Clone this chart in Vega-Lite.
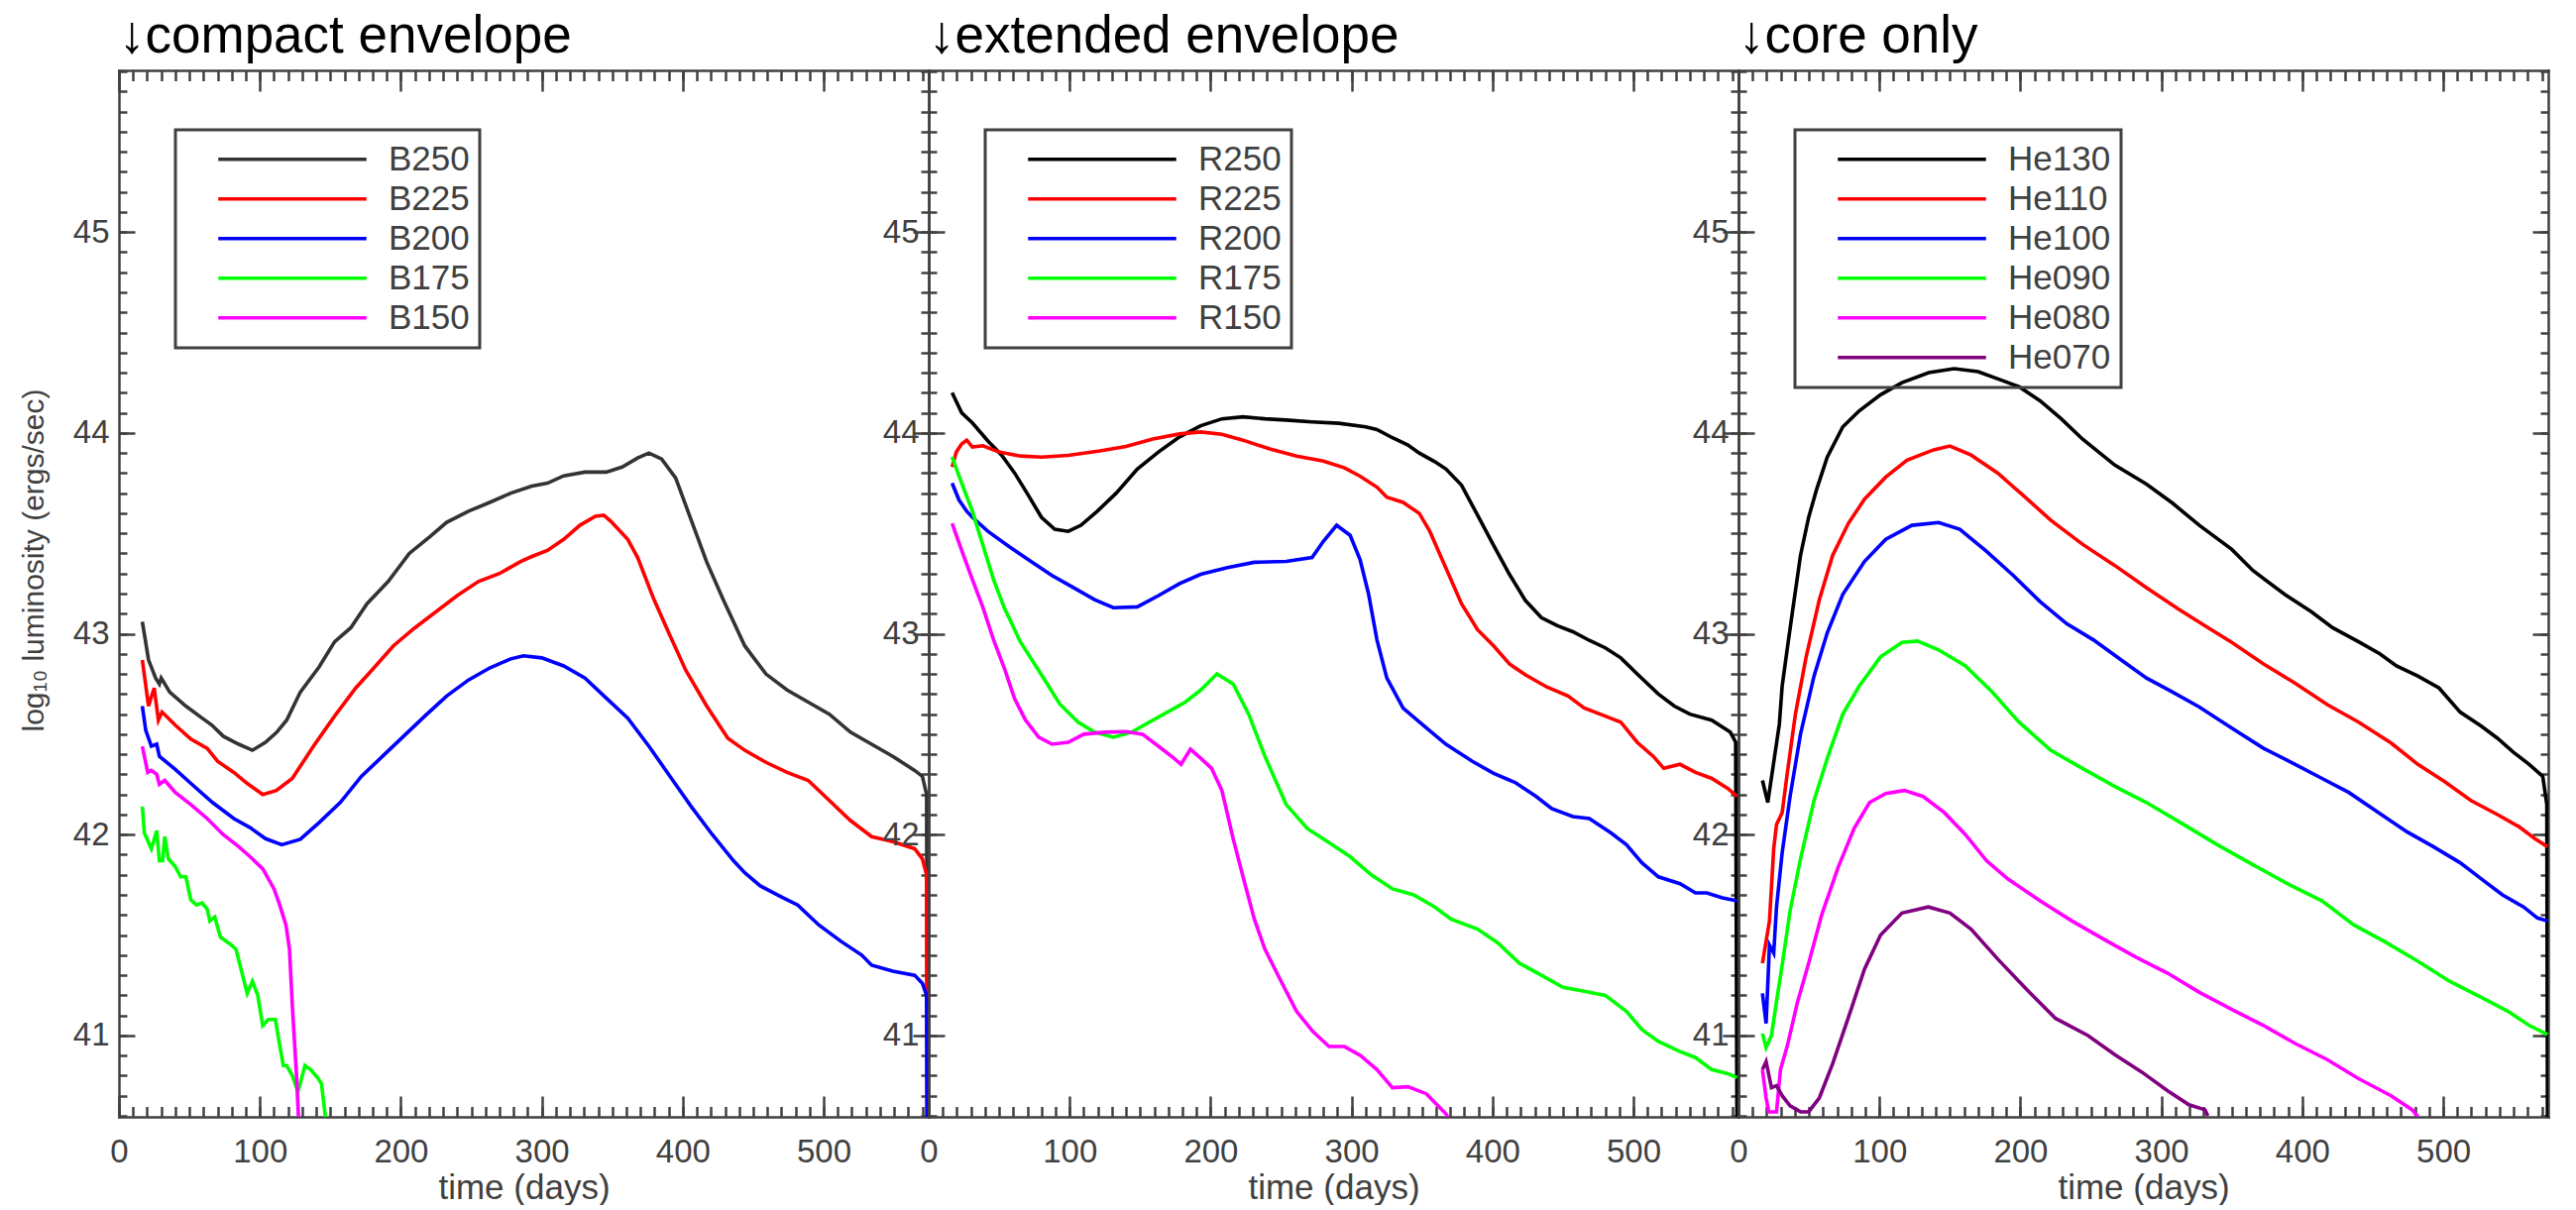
{
  "$schema": "https://vega.github.io/schema/vega-lite/v6.json",
  "background": "white",
  "padding": {"left": 19, "top": 10, "right": 5, "bottom": 0},
  "config": {
    "view": {"stroke": null},
    "axis": {"domainColor": "#404040", "tickColor": "#404040", "labelColor": "#404040", "titleColor": "#404040", "labelFont": "Liberation Sans", "titleFont": "Liberation Sans", "labelFontSize": 33, "titleFontSize": 35, "titleFontWeight": "normal", "grid": false, "domainWidth": 2.5, "tickWidth": 2.5, "domainCap": "square", "labelFlush": false, "labelOverlap": false},
    "legend": {"orient": "none", "legendX": 57, "legendY": 60, "symbolType": "stroke", "symbolSize": 22350, "symbolStrokeWidth": 3.6, "clipHeight": 39.6, "rowPadding": 0, "labelFontSize": 35, "labelColor": "#404040", "labelFont": "Liberation Sans", "labelOffset": 20, "symbolOffset": 31, "padding": 10, "strokeColor": "#404040", "labelLimit": 400},
    "title": {"anchor": "start", "frame": "group", "fontSize": 53, "font": "Liberation Sans", "fontWeight": "normal", "color": "black", "baseline": "alphabetic", "offset": 6}
  },
  "spacing": 0,
  "bounds": "flush",
  "resolve": {"scale": {"color": "independent", "x": "independent", "y": "independent"}, "legend": {"color": "independent"}},
  "hconcat": [
    {
      "width": 817, "height": 1056,
      "title": "↓compact envelope",
      "data": {"values": [
        {"model":"B250","t":16.6,"L":43.06},{"model":"B250","t":21,"L":42.87},{"model":"B250","t":26,"L":42.78},{"model":"B250","t":28.7,"L":42.75},{"model":"B250","t":30,"L":42.78},{"model":"B250","t":36,"L":42.71},{"model":"B250","t":47.5,"L":42.64},{"model":"B250","t":59,"L":42.58},{"model":"B250","t":66,"L":42.545},{"model":"B250","t":74,"L":42.49},{"model":"B250","t":85,"L":42.45},{"model":"B250","t":94.7,"L":42.42},{"model":"B250","t":104,"L":42.46},{"model":"B250","t":112,"L":42.51},{"model":"B250","t":119,"L":42.57},{"model":"B250","t":128.7,"L":42.71},{"model":"B250","t":142,"L":42.835},{"model":"B250","t":153,"L":42.96},{"model":"B250","t":164.5,"L":43.03},{"model":"B250","t":176,"L":43.15},{"model":"B250","t":191,"L":43.26},{"model":"B250","t":206,"L":43.4},{"model":"B250","t":221,"L":43.485},{"model":"B250","t":232.5,"L":43.555},{"model":"B250","t":248,"L":43.61},{"model":"B250","t":263,"L":43.654},{"model":"B250","t":278,"L":43.7},{"model":"B250","t":293,"L":43.735},{"model":"B250","t":304,"L":43.75},{"model":"B250","t":315.5,"L":43.786},{"model":"B250","t":330.6,"L":43.805},{"model":"B250","t":345.7,"L":43.805},{"model":"B250","t":357,"L":43.83},{"model":"B250","t":368,"L":43.875},{"model":"B250","t":376,"L":43.9},{"model":"B250","t":385,"L":43.87},{"model":"B250","t":395,"L":43.775},{"model":"B250","t":406,"L":43.566},{"model":"B250","t":417,"L":43.357},{"model":"B250","t":428.7,"L":43.17},{"model":"B250","t":444,"L":42.94},{"model":"B250","t":459,"L":42.8},{"model":"B250","t":474,"L":42.72},{"model":"B250","t":489,"L":42.66},{"model":"B250","t":504,"L":42.6},{"model":"B250","t":519,"L":42.51},{"model":"B250","t":534,"L":42.45},{"model":"B250","t":549,"L":42.39},{"model":"B250","t":564.5,"L":42.32},{"model":"B250","t":570,"L":42.29},{"model":"B250","t":573,"L":42.2},{"model":"B250","t":573.5,"L":40.4},
        {"model":"B225","t":16.6,"L":42.87},{"model":"B225","t":21,"L":42.64},{"model":"B225","t":25,"L":42.73},{"model":"B225","t":28,"L":42.57},{"model":"B225","t":30.6,"L":42.61},{"model":"B225","t":40,"L":42.545},{"model":"B225","t":51,"L":42.476},{"model":"B225","t":62.6,"L":42.43},{"model":"B225","t":70,"L":42.365},{"model":"B225","t":81.5,"L":42.31},{"model":"B225","t":91,"L":42.255},{"model":"B225","t":102,"L":42.2},{"model":"B225","t":111.7,"L":42.22},{"model":"B225","t":123,"L":42.28},{"model":"B225","t":138,"L":42.44},{"model":"B225","t":153,"L":42.59},{"model":"B225","t":168,"L":42.73},{"model":"B225","t":179.6,"L":42.82},{"model":"B225","t":194.7,"L":42.94},{"model":"B225","t":210,"L":43.03},{"model":"B225","t":225,"L":43.11},{"model":"B225","t":240,"L":43.19},{"model":"B225","t":255,"L":43.26},{"model":"B225","t":270,"L":43.3},{"model":"B225","t":285,"L":43.36},{"model":"B225","t":293,"L":43.385},{"model":"B225","t":304,"L":43.415},{"model":"B225","t":315.5,"L":43.47},{"model":"B225","t":327,"L":43.54},{"model":"B225","t":338,"L":43.585},{"model":"B225","t":344,"L":43.59},{"model":"B225","t":349,"L":43.56},{"model":"B225","t":361,"L":43.47},{"model":"B225","t":368,"L":43.38},{"model":"B225","t":379.6,"L":43.17},{"model":"B225","t":391,"L":42.99},{"model":"B225","t":402,"L":42.82},{"model":"B225","t":417,"L":42.64},{"model":"B225","t":432,"L":42.48},{"model":"B225","t":444,"L":42.42},{"model":"B225","t":459,"L":42.36},{"model":"B225","t":474,"L":42.31},{"model":"B225","t":489,"L":42.27},{"model":"B225","t":504,"L":42.17},{"model":"B225","t":519,"L":42.07},{"model":"B225","t":534,"L":41.99},{"model":"B225","t":549,"L":41.965},{"model":"B225","t":564.5,"L":41.93},{"model":"B225","t":570,"L":41.88},{"model":"B225","t":573,"L":41.8},{"model":"B225","t":573.5,"L":40.4},
        {"model":"B200","t":16.6,"L":42.64},{"model":"B200","t":19,"L":42.52},{"model":"B200","t":23,"L":42.44},{"model":"B200","t":26.8,"L":42.45},{"model":"B200","t":28.7,"L":42.39},{"model":"B200","t":40,"L":42.325},{"model":"B200","t":51,"L":42.255},{"model":"B200","t":66.4,"L":42.16},{"model":"B200","t":81.5,"L":42.08},{"model":"B200","t":93,"L":42.035},{"model":"B200","t":104,"L":41.98},{"model":"B200","t":115.5,"L":41.95},{"model":"B200","t":128.7,"L":41.977},{"model":"B200","t":142,"L":42.06},{"model":"B200","t":157,"L":42.16},{"model":"B200","t":172,"L":42.29},{"model":"B200","t":187,"L":42.39},{"model":"B200","t":202,"L":42.49},{"model":"B200","t":217,"L":42.59},{"model":"B200","t":232.5,"L":42.69},{"model":"B200","t":248,"L":42.77},{"model":"B200","t":263,"L":42.83},{"model":"B200","t":278,"L":42.875},{"model":"B200","t":287,"L":42.89},{"model":"B200","t":300,"L":42.88},{"model":"B200","t":315.5,"L":42.84},{"model":"B200","t":330.6,"L":42.78},{"model":"B200","t":345.7,"L":42.68},{"model":"B200","t":361,"L":42.58},{"model":"B200","t":376,"L":42.44},{"model":"B200","t":391,"L":42.29},{"model":"B200","t":406,"L":42.14},{"model":"B200","t":421,"L":42.0},{"model":"B200","t":436,"L":41.87},{"model":"B200","t":444,"L":41.81},{"model":"B200","t":455,"L":41.745},{"model":"B200","t":470,"L":41.69},{"model":"B200","t":481.5,"L":41.65},{"model":"B200","t":496.6,"L":41.55},{"model":"B200","t":512,"L":41.47},{"model":"B200","t":527,"L":41.4},{"model":"B200","t":534,"L":41.35},{"model":"B200","t":549,"L":41.32},{"model":"B200","t":564.5,"L":41.3},{"model":"B200","t":570,"L":41.26},{"model":"B200","t":573,"L":41.2},{"model":"B200","t":573.5,"L":40.4},
        {"model":"B175","t":16.6,"L":42.14},{"model":"B175","t":18,"L":42.01},{"model":"B175","t":23,"L":41.93},{"model":"B175","t":26.8,"L":42.02},{"model":"B175","t":28.7,"L":41.87},{"model":"B175","t":31,"L":41.87},{"model":"B175","t":32.5,"L":41.99},{"model":"B175","t":35,"L":41.88},{"model":"B175","t":40,"L":41.84},{"model":"B175","t":43.8,"L":41.79},{"model":"B175","t":47.5,"L":41.79},{"model":"B175","t":51,"L":41.675},{"model":"B175","t":55,"L":41.65},{"model":"B175","t":59,"L":41.66},{"model":"B175","t":62.6,"L":41.63},{"model":"B175","t":64.5,"L":41.57},{"model":"B175","t":68,"L":41.59},{"model":"B175","t":72,"L":41.49},{"model":"B175","t":78,"L":41.46},{"model":"B175","t":83,"L":41.43},{"model":"B175","t":87,"L":41.32},{"model":"B175","t":91,"L":41.21},{"model":"B175","t":94.7,"L":41.27},{"model":"B175","t":98.5,"L":41.2},{"model":"B175","t":102,"L":41.05},{"model":"B175","t":106,"L":41.08},{"model":"B175","t":111,"L":41.08},{"model":"B175","t":113.6,"L":40.97},{"model":"B175","t":116.6,"L":40.85},{"model":"B175","t":119,"L":40.85},{"model":"B175","t":123,"L":40.8},{"model":"B175","t":127,"L":40.72},{"model":"B175","t":132,"L":40.85},{"model":"B175","t":136,"L":40.83},{"model":"B175","t":141,"L":40.79},{"model":"B175","t":143.7,"L":40.76},{"model":"B175","t":146.4,"L":40.6},{"model":"B175","t":147,"L":40.5},
        {"model":"B150","t":16.6,"L":42.44},{"model":"B150","t":20.4,"L":42.31},{"model":"B150","t":23,"L":42.32},{"model":"B150","t":26.8,"L":42.3},{"model":"B150","t":28.7,"L":42.25},{"model":"B150","t":32.5,"L":42.27},{"model":"B150","t":40,"L":42.21},{"model":"B150","t":51,"L":42.15},{"model":"B150","t":62.6,"L":42.08},{"model":"B150","t":74,"L":42.0},{"model":"B150","t":85,"L":41.94},{"model":"B150","t":93,"L":41.89},{"model":"B150","t":102,"L":41.83},{"model":"B150","t":110,"L":41.73},{"model":"B150","t":113.6,"L":41.66},{"model":"B150","t":118.5,"L":41.55},{"model":"B150","t":121,"L":41.43},{"model":"B150","t":123,"L":41.15},{"model":"B150","t":126,"L":40.8},{"model":"B150","t":128,"L":40.5}
      ]},
      "layer": [
        {"mark": {"type": "line", "clip": true, "strokeWidth": 3.6},
         "encoding": {
           "x": {"field": "t", "type": "quantitative", "scale": {"domain": [0, 574.5], "nice": false, "zero": false}, "axis": {"orient": "bottom", "values": [0,100,200,300,400,500], "ticks": false, "labelPadding": 19, "title": "time (days)", "titlePadding": 2}},
           "y": {"field": "L", "type": "quantitative", "scale": {"domain": [40.595, 45.805], "nice": false, "zero": false}, "axis": {"orient": "left", "values": [41,42,43,44,45], "ticks": false, "labelPadding": 10, "title": "log₁₀ luminosity (ergs/sec)", "titleFontSize": 30, "titlePadding": 24, "titleY": 494}},
           "color": {"field": "model", "type": "nominal", "scale": {"domain": ["B250","B225","B200","B175","B150"], "range": ["#333333","#ff0000","#0000ff","#00ff00","#ff00ff"]}, "legend": {"title": null, "encode": {"legend": {"update": {"strokeWidth": {"value": 3}}}}}}
         }},
        {"mark": {"type": "point", "opacity": 0},
         "encoding": {
           "x": {"field": "t", "type": "quantitative", "axis": {"orient": "bottom", "values": [0,100,200,300,400,500], "labels": false, "domain": false, "tickSize": -21, "title": null}},
           "y": {"field": "L", "type": "quantitative", "axis": {"orient": "left", "values": [41,42,43,44,45], "labels": false, "domain": false, "tickSize": -16, "title": null}}
         }},
        {"mark": {"type": "point", "opacity": 0},
         "encoding": {
           "x": {"field": "t", "type": "quantitative", "axis": {"orient": "bottom", "values": [0,10,20,30,40,50,60,70,80,90,100,110,120,130,140,150,160,170,180,190,200,210,220,230,240,250,260,270,280,290,300,310,320,330,340,350,360,370,380,390,400,410,420,430,440,450,460,470,480,490,500,510,520,530,540,550,560,570], "labels": false, "domain": false, "tickSize": -10.5, "title": null}},
           "y": {"field": "L", "type": "quantitative", "axis": {"orient": "left", "values": [40.6,40.7,40.8,40.9,41,41.1,41.2,41.3,41.4,41.5,41.6,41.7,41.8,41.9,42,42.1,42.2,42.3,42.4,42.5,42.6,42.7,42.8,42.9,43,43.1,43.2,43.3,43.4,43.5,43.6,43.7,43.8,43.9,44,44.1,44.2,44.3,44.4,44.5,44.6,44.7,44.8,44.9,45,45.1,45.2,45.3,45.4,45.5,45.6,45.7,45.8], "labels": false, "domain": false, "tickSize": -8, "title": null}}
         }},
        {"mark": {"type": "point", "opacity": 0},
         "encoding": {
           "x": {"field": "t", "type": "quantitative", "axis": {"orient": "top", "values": [0,100,200,300,400,500], "labels": false, "tickSize": -21, "title": null}},
           "y": {"field": "L", "type": "quantitative", "axis": {"orient": "right", "values": [41,42,43,44,45], "labels": false, "tickSize": -16, "title": null}}
         }},
        {"mark": {"type": "point", "opacity": 0},
         "encoding": {
           "x": {"field": "t", "type": "quantitative", "axis": {"orient": "top", "values": [0,10,20,30,40,50,60,70,80,90,100,110,120,130,140,150,160,170,180,190,200,210,220,230,240,250,260,270,280,290,300,310,320,330,340,350,360,370,380,390,400,410,420,430,440,450,460,470,480,490,500,510,520,530,540,550,560,570], "labels": false, "domain": false, "tickSize": -10.5, "title": null}},
           "y": {"field": "L", "type": "quantitative", "axis": {"orient": "right", "values": [40.6,40.7,40.8,40.9,41,41.1,41.2,41.3,41.4,41.5,41.6,41.7,41.8,41.9,42,42.1,42.2,42.3,42.4,42.5,42.6,42.7,42.8,42.9,43,43.1,43.2,43.3,43.4,43.5,43.6,43.7,43.8,43.9,44,44.1,44.2,44.3,44.4,44.5,44.6,44.7,44.8,44.9,45,45.1,45.2,45.3,45.4,45.5,45.6,45.7,45.8], "labels": false, "domain": false, "tickSize": -8, "title": null}}
         }}
      ],
      "resolve": {"axis": {"x": "independent", "y": "independent"}}
    },
    {
      "width": 817, "height": 1056,
      "title": "↓extended envelope",
      "data": {"values": [
        {"model":"R250","t":16.6,"L":44.2},{"model":"R250","t":23.4,"L":44.1},{"model":"R250","t":31,"L":44.05},{"model":"R250","t":42,"L":43.96},{"model":"R250","t":51.7,"L":43.89},{"model":"R250","t":61,"L":43.8},{"model":"R250","t":70.6,"L":43.69},{"model":"R250","t":80,"L":43.58},{"model":"R250","t":89.4,"L":43.52},{"model":"R250","t":99,"L":43.51},{"model":"R250","t":108,"L":43.54},{"model":"R250","t":119.6,"L":43.61},{"model":"R250","t":133,"L":43.7},{"model":"R250","t":148,"L":43.82},{"model":"R250","t":163,"L":43.905},{"model":"R250","t":178,"L":43.98},{"model":"R250","t":193,"L":44.036},{"model":"R250","t":208,"L":44.07},{"model":"R250","t":223,"L":44.08},{"model":"R250","t":238.5,"L":44.07},{"model":"R250","t":253.6,"L":44.064},{"model":"R250","t":272,"L":44.055},{"model":"R250","t":291,"L":44.048},{"model":"R250","t":310,"L":44.03},{"model":"R250","t":318,"L":44.017},{"model":"R250","t":329,"L":43.976},{"model":"R250","t":340,"L":43.94},{"model":"R250","t":348,"L":43.9},{"model":"R250","t":359,"L":43.857},{"model":"R250","t":367,"L":43.82},{"model":"R250","t":378,"L":43.74},{"model":"R250","t":389.4,"L":43.59},{"model":"R250","t":400.8,"L":43.44},{"model":"R250","t":412,"L":43.296},{"model":"R250","t":423.4,"L":43.165},{"model":"R250","t":434.7,"L":43.08},{"model":"R250","t":446,"L":43.04},{"model":"R250","t":457,"L":43.01},{"model":"R250","t":468.7,"L":42.967},{"model":"R250","t":480,"L":42.93},{"model":"R250","t":491,"L":42.88},{"model":"R250","t":502.6,"L":42.8},{"model":"R250","t":517.7,"L":42.7},{"model":"R250","t":529,"L":42.64},{"model":"R250","t":540,"L":42.6},{"model":"R250","t":555.5,"L":42.57},{"model":"R250","t":568.7,"L":42.51},{"model":"R250","t":572.5,"L":42.46},{"model":"R250","t":573.5,"L":40.4},
        {"model":"R225","t":16.6,"L":43.83},{"model":"R225","t":19.6,"L":43.905},{"model":"R225","t":23.4,"L":43.945},{"model":"R225","t":27,"L":43.964},{"model":"R225","t":31,"L":43.93},{"model":"R225","t":38.5,"L":43.936},{"model":"R225","t":49.8,"L":43.905},{"model":"R225","t":65,"L":43.885},{"model":"R225","t":80,"L":43.88},{"model":"R225","t":99,"L":43.888},{"model":"R225","t":121.5,"L":43.91},{"model":"R225","t":140,"L":43.933},{"model":"R225","t":159,"L":43.97},{"model":"R225","t":178,"L":43.995},{"model":"R225","t":193,"L":44.005},{"model":"R225","t":208,"L":43.993},{"model":"R225","t":223,"L":43.964},{"model":"R225","t":242,"L":43.92},{"model":"R225","t":261,"L":43.885},{"model":"R225","t":280,"L":43.86},{"model":"R225","t":295,"L":43.826},{"model":"R225","t":306,"L":43.785},{"model":"R225","t":318,"L":43.73},{"model":"R225","t":325,"L":43.68},{"model":"R225","t":336.6,"L":43.654},{"model":"R225","t":348,"L":43.6},{"model":"R225","t":355.5,"L":43.51},{"model":"R225","t":363,"L":43.39},{"model":"R225","t":370.5,"L":43.27},{"model":"R225","t":378,"L":43.15},{"model":"R225","t":389.4,"L":43.02},{"model":"R225","t":400.8,"L":42.94},{"model":"R225","t":412,"L":42.85},{"model":"R225","t":423.4,"L":42.795},{"model":"R225","t":438.5,"L":42.735},{"model":"R225","t":453.6,"L":42.69},{"model":"R225","t":465,"L":42.63},{"model":"R225","t":480,"L":42.59},{"model":"R225","t":491,"L":42.56},{"model":"R225","t":502.6,"L":42.46},{"model":"R225","t":514,"L":42.39},{"model":"R225","t":521.5,"L":42.33},{"model":"R225","t":533,"L":42.35},{"model":"R225","t":544,"L":42.31},{"model":"R225","t":555.5,"L":42.28},{"model":"R225","t":567,"L":42.23},{"model":"R225","t":573.5,"L":42.19},
        {"model":"R200","t":16.6,"L":43.75},{"model":"R200","t":21.5,"L":43.666},{"model":"R200","t":27,"L":43.61},{"model":"R200","t":31,"L":43.58},{"model":"R200","t":42,"L":43.51},{"model":"R200","t":57,"L":43.434},{"model":"R200","t":72.5,"L":43.36},{"model":"R200","t":87.5,"L":43.29},{"model":"R200","t":102.6,"L":43.23},{"model":"R200","t":117.7,"L":43.17},{"model":"R200","t":131,"L":43.13},{"model":"R200","t":148,"L":43.134},{"model":"R200","t":163,"L":43.19},{"model":"R200","t":178,"L":43.25},{"model":"R200","t":193,"L":43.296},{"model":"R200","t":212,"L":43.33},{"model":"R200","t":231,"L":43.356},{"model":"R200","t":253.6,"L":43.36},{"model":"R200","t":272,"L":43.38},{"model":"R200","t":280,"L":43.46},{"model":"R200","t":289.4,"L":43.54},{"model":"R200","t":299,"L":43.49},{"model":"R200","t":306,"L":43.37},{"model":"R200","t":312,"L":43.2},{"model":"R200","t":318,"L":42.97},{"model":"R200","t":325,"L":42.78},{"model":"R200","t":336.6,"L":42.63},{"model":"R200","t":351.7,"L":42.54},{"model":"R200","t":367,"L":42.45},{"model":"R200","t":385.7,"L":42.365},{"model":"R200","t":400.8,"L":42.305},{"model":"R200","t":416,"L":42.26},{"model":"R200","t":431,"L":42.19},{"model":"R200","t":442,"L":42.13},{"model":"R200","t":457,"L":42.09},{"model":"R200","t":468.7,"L":42.08},{"model":"R200","t":483.8,"L":42.01},{"model":"R200","t":495,"L":41.95},{"model":"R200","t":506,"L":41.86},{"model":"R200","t":517.7,"L":41.79},{"model":"R200","t":533,"L":41.756},{"model":"R200","t":544,"L":41.71},{"model":"R200","t":552,"L":41.71},{"model":"R200","t":563,"L":41.685},{"model":"R200","t":573.5,"L":41.67},
        {"model":"R175","t":16.6,"L":43.88},{"model":"R175","t":23.4,"L":43.75},{"model":"R175","t":31,"L":43.61},{"model":"R175","t":38.5,"L":43.44},{"model":"R175","t":46,"L":43.27},{"model":"R175","t":53.6,"L":43.13},{"model":"R175","t":65,"L":42.96},{"model":"R175","t":80,"L":42.795},{"model":"R175","t":93,"L":42.65},{"model":"R175","t":106,"L":42.56},{"model":"R175","t":117.7,"L":42.51},{"model":"R175","t":131,"L":42.485},{"model":"R175","t":144,"L":42.51},{"model":"R175","t":155.5,"L":42.556},{"model":"R175","t":166.8,"L":42.6},{"model":"R175","t":182,"L":42.66},{"model":"R175","t":193,"L":42.72},{"model":"R175","t":204.5,"L":42.8},{"model":"R175","t":216,"L":42.75},{"model":"R175","t":227,"L":42.6},{"model":"R175","t":238.5,"L":42.39},{"model":"R175","t":253.6,"L":42.15},{"model":"R175","t":268.7,"L":42.03},{"model":"R175","t":284,"L":41.96},{"model":"R175","t":299,"L":41.89},{"model":"R175","t":314,"L":41.8},{"model":"R175","t":329,"L":41.73},{"model":"R175","t":344,"L":41.7},{"model":"R175","t":359,"L":41.64},{"model":"R175","t":370.5,"L":41.58},{"model":"R175","t":389.4,"L":41.53},{"model":"R175","t":404,"L":41.46},{"model":"R175","t":419,"L":41.36},{"model":"R175","t":434.7,"L":41.3},{"model":"R175","t":450,"L":41.24},{"model":"R175","t":465,"L":41.22},{"model":"R175","t":480,"L":41.2},{"model":"R175","t":495,"L":41.12},{"model":"R175","t":506,"L":41.03},{"model":"R175","t":517.7,"L":40.97},{"model":"R175","t":533,"L":40.92},{"model":"R175","t":544,"L":40.89},{"model":"R175","t":555.5,"L":40.83},{"model":"R175","t":567,"L":40.81},{"model":"R175","t":573.5,"L":40.79},
        {"model":"R150","t":16.6,"L":43.55},{"model":"R150","t":23.4,"L":43.415},{"model":"R150","t":31,"L":43.27},{"model":"R150","t":38.5,"L":43.13},{"model":"R150","t":46,"L":42.97},{"model":"R150","t":53.6,"L":42.83},{"model":"R150","t":61,"L":42.675},{"model":"R150","t":68.7,"L":42.57},{"model":"R150","t":78,"L":42.485},{"model":"R150","t":87.5,"L":42.45},{"model":"R150","t":99,"L":42.46},{"model":"R150","t":110,"L":42.5},{"model":"R150","t":125,"L":42.51},{"model":"R150","t":140,"L":42.513},{"model":"R150","t":151.7,"L":42.5},{"model":"R150","t":163,"L":42.44},{"model":"R150","t":174,"L":42.38},{"model":"R150","t":179,"L":42.35},{"model":"R150","t":185.7,"L":42.425},{"model":"R150","t":193,"L":42.38},{"model":"R150","t":200.7,"L":42.33},{"model":"R150","t":208,"L":42.22},{"model":"R150","t":216,"L":41.98},{"model":"R150","t":223,"L":41.79},{"model":"R150","t":231,"L":41.58},{"model":"R150","t":238.5,"L":41.43},{"model":"R150","t":250,"L":41.27},{"model":"R150","t":261,"L":41.12},{"model":"R150","t":272.5,"L":41.02},{"model":"R150","t":284,"L":40.945},{"model":"R150","t":295,"L":40.945},{"model":"R150","t":306.4,"L":40.9},{"model":"R150","t":318,"L":40.83},{"model":"R150","t":329,"L":40.74},{"model":"R150","t":340,"L":40.745},{"model":"R150","t":353,"L":40.71},{"model":"R150","t":367,"L":40.61},{"model":"R150","t":370,"L":40.57}
      ]},
      "layer": [
        {"mark": {"type": "line", "clip": true, "strokeWidth": 3.6},
         "encoding": {
           "x": {"field": "t", "type": "quantitative", "scale": {"domain": [0, 574.5], "nice": false, "zero": false}, "axis": {"orient": "bottom", "values": [0,100,200,300,400,500], "ticks": false, "labelPadding": 19, "title": "time (days)", "titlePadding": 2}},
           "y": {"field": "L", "type": "quantitative", "scale": {"domain": [40.595, 45.805], "nice": false, "zero": false}, "axis": {"orient": "left", "values": [41,42,43,44,45], "ticks": false, "labelPadding": 10, "title": null}},
           "color": {"field": "model", "type": "nominal", "scale": {"domain": ["R250","R225","R200","R175","R150"], "range": ["#000000","#ff0000","#0000ff","#00ff00","#ff00ff"]}, "legend": {"title": null, "encode": {"legend": {"update": {"strokeWidth": {"value": 3}}}}}}
         }},
        {"mark": {"type": "point", "opacity": 0},
         "encoding": {
           "x": {"field": "t", "type": "quantitative", "axis": {"orient": "bottom", "values": [0,100,200,300,400,500], "labels": false, "domain": false, "tickSize": -21, "title": null}},
           "y": {"field": "L", "type": "quantitative", "axis": {"orient": "left", "values": [41,42,43,44,45], "labels": false, "domain": false, "tickSize": -16, "title": null}}
         }},
        {"mark": {"type": "point", "opacity": 0},
         "encoding": {
           "x": {"field": "t", "type": "quantitative", "axis": {"orient": "bottom", "values": [0,10,20,30,40,50,60,70,80,90,100,110,120,130,140,150,160,170,180,190,200,210,220,230,240,250,260,270,280,290,300,310,320,330,340,350,360,370,380,390,400,410,420,430,440,450,460,470,480,490,500,510,520,530,540,550,560,570], "labels": false, "domain": false, "tickSize": -10.5, "title": null}},
           "y": {"field": "L", "type": "quantitative", "axis": {"orient": "left", "values": [40.6,40.7,40.8,40.9,41,41.1,41.2,41.3,41.4,41.5,41.6,41.7,41.8,41.9,42,42.1,42.2,42.3,42.4,42.5,42.6,42.7,42.8,42.9,43,43.1,43.2,43.3,43.4,43.5,43.6,43.7,43.8,43.9,44,44.1,44.2,44.3,44.4,44.5,44.6,44.7,44.8,44.9,45,45.1,45.2,45.3,45.4,45.5,45.6,45.7,45.8], "labels": false, "domain": false, "tickSize": -8, "title": null}}
         }},
        {"mark": {"type": "point", "opacity": 0},
         "encoding": {
           "x": {"field": "t", "type": "quantitative", "axis": {"orient": "top", "values": [0,100,200,300,400,500], "labels": false, "tickSize": -21, "title": null}},
           "y": {"field": "L", "type": "quantitative", "axis": {"orient": "right", "values": [41,42,43,44,45], "labels": false, "tickSize": -16, "title": null}}
         }},
        {"mark": {"type": "point", "opacity": 0},
         "encoding": {
           "x": {"field": "t", "type": "quantitative", "axis": {"orient": "top", "values": [0,10,20,30,40,50,60,70,80,90,100,110,120,130,140,150,160,170,180,190,200,210,220,230,240,250,260,270,280,290,300,310,320,330,340,350,360,370,380,390,400,410,420,430,440,450,460,470,480,490,500,510,520,530,540,550,560,570], "labels": false, "domain": false, "tickSize": -10.5, "title": null}},
           "y": {"field": "L", "type": "quantitative", "axis": {"orient": "right", "values": [40.6,40.7,40.8,40.9,41,41.1,41.2,41.3,41.4,41.5,41.6,41.7,41.8,41.9,42,42.1,42.2,42.3,42.4,42.5,42.6,42.7,42.8,42.9,43,43.1,43.2,43.3,43.4,43.5,43.6,43.7,43.8,43.9,44,44.1,44.2,44.3,44.4,44.5,44.6,44.7,44.8,44.9,45,45.1,45.2,45.3,45.4,45.5,45.6,45.7,45.8], "labels": false, "domain": false, "tickSize": -8, "title": null}}
         }}
      ],
      "resolve": {"axis": {"x": "independent", "y": "independent"}}
    },
    {
      "width": 817, "height": 1056,
      "title": "↓core only",
      "data": {"values": [
        {"model":"He130","t":17,"L":42.27},{"model":"He130","t":20.8,"L":42.16},{"model":"He130","t":25,"L":42.36},{"model":"He130","t":29,"L":42.55},{"model":"He130","t":31,"L":42.74},{"model":"He130","t":34.7,"L":42.93},{"model":"He130","t":38.5,"L":43.12},{"model":"He130","t":44,"L":43.39},{"model":"He130","t":49.8,"L":43.58},{"model":"He130","t":55.5,"L":43.72},{"model":"He130","t":63,"L":43.88},{"model":"He130","t":74,"L":44.03},{"model":"He130","t":85.7,"L":44.11},{"model":"He130","t":100.8,"L":44.19},{"model":"He130","t":116,"L":44.25},{"model":"He130","t":135,"L":44.3},{"model":"He130","t":153,"L":44.32},{"model":"He130","t":170,"L":44.305},{"model":"He130","t":187.5,"L":44.26},{"model":"He130","t":199,"L":44.23},{"model":"He130","t":214,"L":44.16},{"model":"He130","t":229,"L":44.07},{"model":"He130","t":244,"L":43.97},{"model":"He130","t":267,"L":43.84},{"model":"He130","t":289.4,"L":43.745},{"model":"He130","t":308,"L":43.65},{"model":"He130","t":327,"L":43.54},{"model":"He130","t":350,"L":43.42},{"model":"He130","t":365,"L":43.315},{"model":"He130","t":387.5,"L":43.196},{"model":"He130","t":406.4,"L":43.11},{"model":"He130","t":421.5,"L":43.03},{"model":"He130","t":440,"L":42.96},{"model":"He130","t":455,"L":42.9},{"model":"He130","t":466.8,"L":42.84},{"model":"He130","t":481.9,"L":42.79},{"model":"He130","t":497,"L":42.73},{"model":"He130","t":512,"L":42.61},{"model":"He130","t":527,"L":42.54},{"model":"He130","t":538.5,"L":42.48},{"model":"He130","t":549.8,"L":42.41},{"model":"He130","t":561,"L":42.35},{"model":"He130","t":570.6,"L":42.29},{"model":"He130","t":573.5,"L":42.15},{"model":"He130","t":574,"L":40.4},
        {"model":"He110","t":17,"L":41.36},{"model":"He110","t":22,"L":41.57},{"model":"He110","t":25,"L":41.93},{"model":"He110","t":27,"L":42.05},{"model":"He110","t":31,"L":42.11},{"model":"He110","t":34.7,"L":42.31},{"model":"He110","t":40.4,"L":42.6},{"model":"He110","t":48,"L":42.885},{"model":"He110","t":57.4,"L":43.17},{"model":"He110","t":66.8,"L":43.39},{"model":"He110","t":78,"L":43.55},{"model":"He110","t":89.4,"L":43.67},{"model":"He110","t":104.5,"L":43.78},{"model":"He110","t":119.6,"L":43.864},{"model":"He110","t":138.5,"L":43.916},{"model":"He110","t":150,"L":43.935},{"model":"He110","t":165,"L":43.89},{"model":"He110","t":184,"L":43.8},{"model":"He110","t":202.6,"L":43.685},{"model":"He110","t":221.5,"L":43.566},{"model":"He110","t":244,"L":43.446},{"model":"He110","t":267,"L":43.34},{"model":"He110","t":289.4,"L":43.23},{"model":"He110","t":312,"L":43.124},{"model":"He110","t":331,"L":43.04},{"model":"He110","t":350,"L":42.957},{"model":"He110","t":372.5,"L":42.85},{"model":"He110","t":395,"L":42.754},{"model":"He110","t":417.7,"L":42.647},{"model":"He110","t":440,"L":42.56},{"model":"He110","t":463,"L":42.456},{"model":"He110","t":482,"L":42.35},{"model":"He110","t":500.8,"L":42.265},{"model":"He110","t":519.6,"L":42.17},{"model":"He110","t":538.5,"L":42.1},{"model":"He110","t":553.6,"L":42.04},{"model":"He110","t":565,"L":41.98},{"model":"He110","t":574,"L":41.94},
        {"model":"He100","t":17,"L":41.21},{"model":"He100","t":19.6,"L":41.06},{"model":"He100","t":22,"L":41.45},{"model":"He100","t":25,"L":41.41},{"model":"He100","t":27,"L":41.64},{"model":"He100","t":31,"L":41.91},{"model":"He100","t":36.6,"L":42.19},{"model":"He100","t":44,"L":42.5},{"model":"He100","t":53.6,"L":42.79},{"model":"He100","t":63,"L":43.005},{"model":"He100","t":74,"L":43.196},{"model":"He100","t":89.4,"L":43.36},{"model":"He100","t":104.5,"L":43.47},{"model":"He100","t":123,"L":43.54},{"model":"He100","t":142,"L":43.554},{"model":"He100","t":157,"L":43.52},{"model":"He100","t":176,"L":43.41},{"model":"He100","t":195,"L":43.29},{"model":"He100","t":214,"L":43.16},{"model":"He100","t":232.8,"L":43.05},{"model":"He100","t":251.7,"L":42.97},{"model":"He100","t":270.6,"L":42.874},{"model":"He100","t":289.4,"L":42.78},{"model":"He100","t":308,"L":42.71},{"model":"He100","t":327,"L":42.635},{"model":"He100","t":350,"L":42.53},{"model":"He100","t":372.5,"L":42.43},{"model":"He100","t":395,"L":42.35},{"model":"He100","t":414,"L":42.28},{"model":"He100","t":433,"L":42.21},{"model":"He100","t":452,"L":42.12},{"model":"He100","t":474.3,"L":42.014},{"model":"He100","t":493,"L":41.94},{"model":"He100","t":512,"L":41.86},{"model":"He100","t":527,"L":41.78},{"model":"He100","t":542,"L":41.7},{"model":"He100","t":557,"L":41.64},{"model":"He100","t":566.8,"L":41.585},{"model":"He100","t":574,"L":41.57},
        {"model":"He090","t":17,"L":41.01},{"model":"He090","t":19.6,"L":40.94},{"model":"He090","t":23.4,"L":41.0},{"model":"He090","t":27,"L":41.17},{"model":"He090","t":31,"L":41.35},{"model":"He090","t":36.6,"L":41.62},{"model":"He090","t":44,"L":41.88},{"model":"He090","t":53.6,"L":42.17},{"model":"He090","t":63,"L":42.38},{"model":"He090","t":74,"L":42.6},{"model":"He090","t":85.7,"L":42.74},{"model":"He090","t":100.8,"L":42.885},{"model":"He090","t":116,"L":42.957},{"model":"He090","t":127,"L":42.964},{"model":"He090","t":142,"L":42.92},{"model":"He090","t":161,"L":42.84},{"model":"He090","t":180,"L":42.71},{"model":"He090","t":199,"L":42.56},{"model":"He090","t":221.5,"L":42.42},{"model":"He090","t":244,"L":42.33},{"model":"He090","t":267,"L":42.24},{"model":"He090","t":289.4,"L":42.16},{"model":"He090","t":316,"L":42.05},{"model":"He090","t":338.5,"L":41.955},{"model":"He090","t":365,"L":41.85},{"model":"He090","t":391,"L":41.75},{"model":"He090","t":414,"L":41.67},{"model":"He090","t":436.6,"L":41.55},{"model":"He090","t":459,"L":41.465},{"model":"He090","t":482,"L":41.37},{"model":"He090","t":504.5,"L":41.27},{"model":"He090","t":527,"L":41.19},{"model":"He090","t":546,"L":41.12},{"model":"He090","t":561,"L":41.05},{"model":"He090","t":574,"L":41.005},
        {"model":"He080","t":17,"L":40.83},{"model":"He080","t":19.6,"L":40.69},{"model":"He080","t":21.5,"L":40.62},{"model":"He080","t":27,"L":40.62},{"model":"He080","t":29.8,"L":40.83},{"model":"He080","t":34.7,"L":40.95},{"model":"He080","t":42,"L":41.17},{"model":"He080","t":49.8,"L":41.36},{"model":"He080","t":59,"L":41.6},{"model":"He080","t":70.6,"L":41.835},{"model":"He080","t":82,"L":42.03},{"model":"He080","t":93,"L":42.16},{"model":"He080","t":104.5,"L":42.205},{"model":"He080","t":117.7,"L":42.22},{"model":"He080","t":131,"L":42.19},{"model":"He080","t":146,"L":42.11},{"model":"He080","t":161,"L":42.0},{"model":"He080","t":176,"L":41.87},{"model":"He080","t":191,"L":41.78},{"model":"He080","t":214,"L":41.67},{"model":"He080","t":236.6,"L":41.57},{"model":"He080","t":259,"L":41.48},{"model":"He080","t":282,"L":41.39},{"model":"He080","t":304.5,"L":41.31},{"model":"He080","t":327,"L":41.215},{"model":"He080","t":350,"L":41.13},{"model":"He080","t":372.5,"L":41.05},{"model":"He080","t":395,"L":40.96},{"model":"He080","t":417.7,"L":40.88},{"model":"He080","t":440,"L":40.785},{"model":"He080","t":463,"L":40.7},{"model":"He080","t":478,"L":40.63},{"model":"He080","t":482,"L":40.595},
        {"model":"He070","t":17,"L":40.83},{"model":"He070","t":19.6,"L":40.87},{"model":"He070","t":23.4,"L":40.74},{"model":"He070","t":27,"L":40.75},{"model":"He070","t":31,"L":40.7},{"model":"He070","t":36.6,"L":40.65},{"model":"He070","t":44,"L":40.62},{"model":"He070","t":49.8,"L":40.62},{"model":"He070","t":57.4,"L":40.69},{"model":"He070","t":66.8,"L":40.86},{"model":"He070","t":78,"L":41.09},{"model":"He070","t":89.4,"L":41.33},{"model":"He070","t":100.8,"L":41.5},{"model":"He070","t":116,"L":41.61},{"model":"He070","t":134.7,"L":41.64},{"model":"He070","t":150,"L":41.61},{"model":"He070","t":165,"L":41.53},{"model":"He070","t":184,"L":41.38},{"model":"He070","t":206.4,"L":41.215},{"model":"He070","t":225,"L":41.085},{"model":"He070","t":248,"L":41.0},{"model":"He070","t":267,"L":40.905},{"model":"He070","t":285.7,"L":40.82},{"model":"He070","t":304.5,"L":40.725},{"model":"He070","t":319.6,"L":40.655},{"model":"He070","t":331,"L":40.63},{"model":"He070","t":333,"L":40.6}
      ]},
      "layer": [
        {"mark": {"type": "line", "clip": true, "strokeWidth": 3.6},
         "encoding": {
           "x": {"field": "t", "type": "quantitative", "scale": {"domain": [0, 574.5], "nice": false, "zero": false}, "axis": {"orient": "bottom", "values": [0,100,200,300,400,500], "ticks": false, "labelPadding": 19, "title": "time (days)", "titlePadding": 2}},
           "y": {"field": "L", "type": "quantitative", "scale": {"domain": [40.595, 45.805], "nice": false, "zero": false}, "axis": {"orient": "left", "values": [41,42,43,44,45], "ticks": false, "labelPadding": 10, "title": null}},
           "color": {"field": "model", "type": "nominal", "scale": {"domain": ["He130","He110","He100","He090","He080","He070"], "range": ["#000000","#ff0000","#0000ff","#00ff00","#ff00ff","#800080"]}, "legend": {"title": null, "encode": {"legend": {"update": {"strokeWidth": {"value": 3}}}}}}
         }},
        {"mark": {"type": "point", "opacity": 0},
         "encoding": {
           "x": {"field": "t", "type": "quantitative", "axis": {"orient": "bottom", "values": [0,100,200,300,400,500], "labels": false, "domain": false, "tickSize": -21, "title": null}},
           "y": {"field": "L", "type": "quantitative", "axis": {"orient": "left", "values": [41,42,43,44,45], "labels": false, "domain": false, "tickSize": -16, "title": null}}
         }},
        {"mark": {"type": "point", "opacity": 0},
         "encoding": {
           "x": {"field": "t", "type": "quantitative", "axis": {"orient": "bottom", "values": [0,10,20,30,40,50,60,70,80,90,100,110,120,130,140,150,160,170,180,190,200,210,220,230,240,250,260,270,280,290,300,310,320,330,340,350,360,370,380,390,400,410,420,430,440,450,460,470,480,490,500,510,520,530,540,550,560,570], "labels": false, "domain": false, "tickSize": -10.5, "title": null}},
           "y": {"field": "L", "type": "quantitative", "axis": {"orient": "left", "values": [40.6,40.7,40.8,40.9,41,41.1,41.2,41.3,41.4,41.5,41.6,41.7,41.8,41.9,42,42.1,42.2,42.3,42.4,42.5,42.6,42.7,42.8,42.9,43,43.1,43.2,43.3,43.4,43.5,43.6,43.7,43.8,43.9,44,44.1,44.2,44.3,44.4,44.5,44.6,44.7,44.8,44.9,45,45.1,45.2,45.3,45.4,45.5,45.6,45.7,45.8], "labels": false, "domain": false, "tickSize": -8, "title": null}}
         }},
        {"mark": {"type": "point", "opacity": 0},
         "encoding": {
           "x": {"field": "t", "type": "quantitative", "axis": {"orient": "top", "values": [0,100,200,300,400,500], "labels": false, "tickSize": -21, "title": null}},
           "y": {"field": "L", "type": "quantitative", "axis": {"orient": "right", "values": [41,42,43,44,45], "labels": false, "tickSize": -16, "title": null}}
         }},
        {"mark": {"type": "point", "opacity": 0},
         "encoding": {
           "x": {"field": "t", "type": "quantitative", "axis": {"orient": "top", "values": [0,10,20,30,40,50,60,70,80,90,100,110,120,130,140,150,160,170,180,190,200,210,220,230,240,250,260,270,280,290,300,310,320,330,340,350,360,370,380,390,400,410,420,430,440,450,460,470,480,490,500,510,520,530,540,550,560,570], "labels": false, "domain": false, "tickSize": -10.5, "title": null}},
           "y": {"field": "L", "type": "quantitative", "axis": {"orient": "right", "values": [40.6,40.7,40.8,40.9,41,41.1,41.2,41.3,41.4,41.5,41.6,41.7,41.8,41.9,42,42.1,42.2,42.3,42.4,42.5,42.6,42.7,42.8,42.9,43,43.1,43.2,43.3,43.4,43.5,43.6,43.7,43.8,43.9,44,44.1,44.2,44.3,44.4,44.5,44.6,44.7,44.8,44.9,45,45.1,45.2,45.3,45.4,45.5,45.6,45.7,45.8], "labels": false, "domain": false, "tickSize": -8, "title": null}}
         }}
      ],
      "resolve": {"axis": {"x": "independent", "y": "independent"}}
    }
  ]
}
